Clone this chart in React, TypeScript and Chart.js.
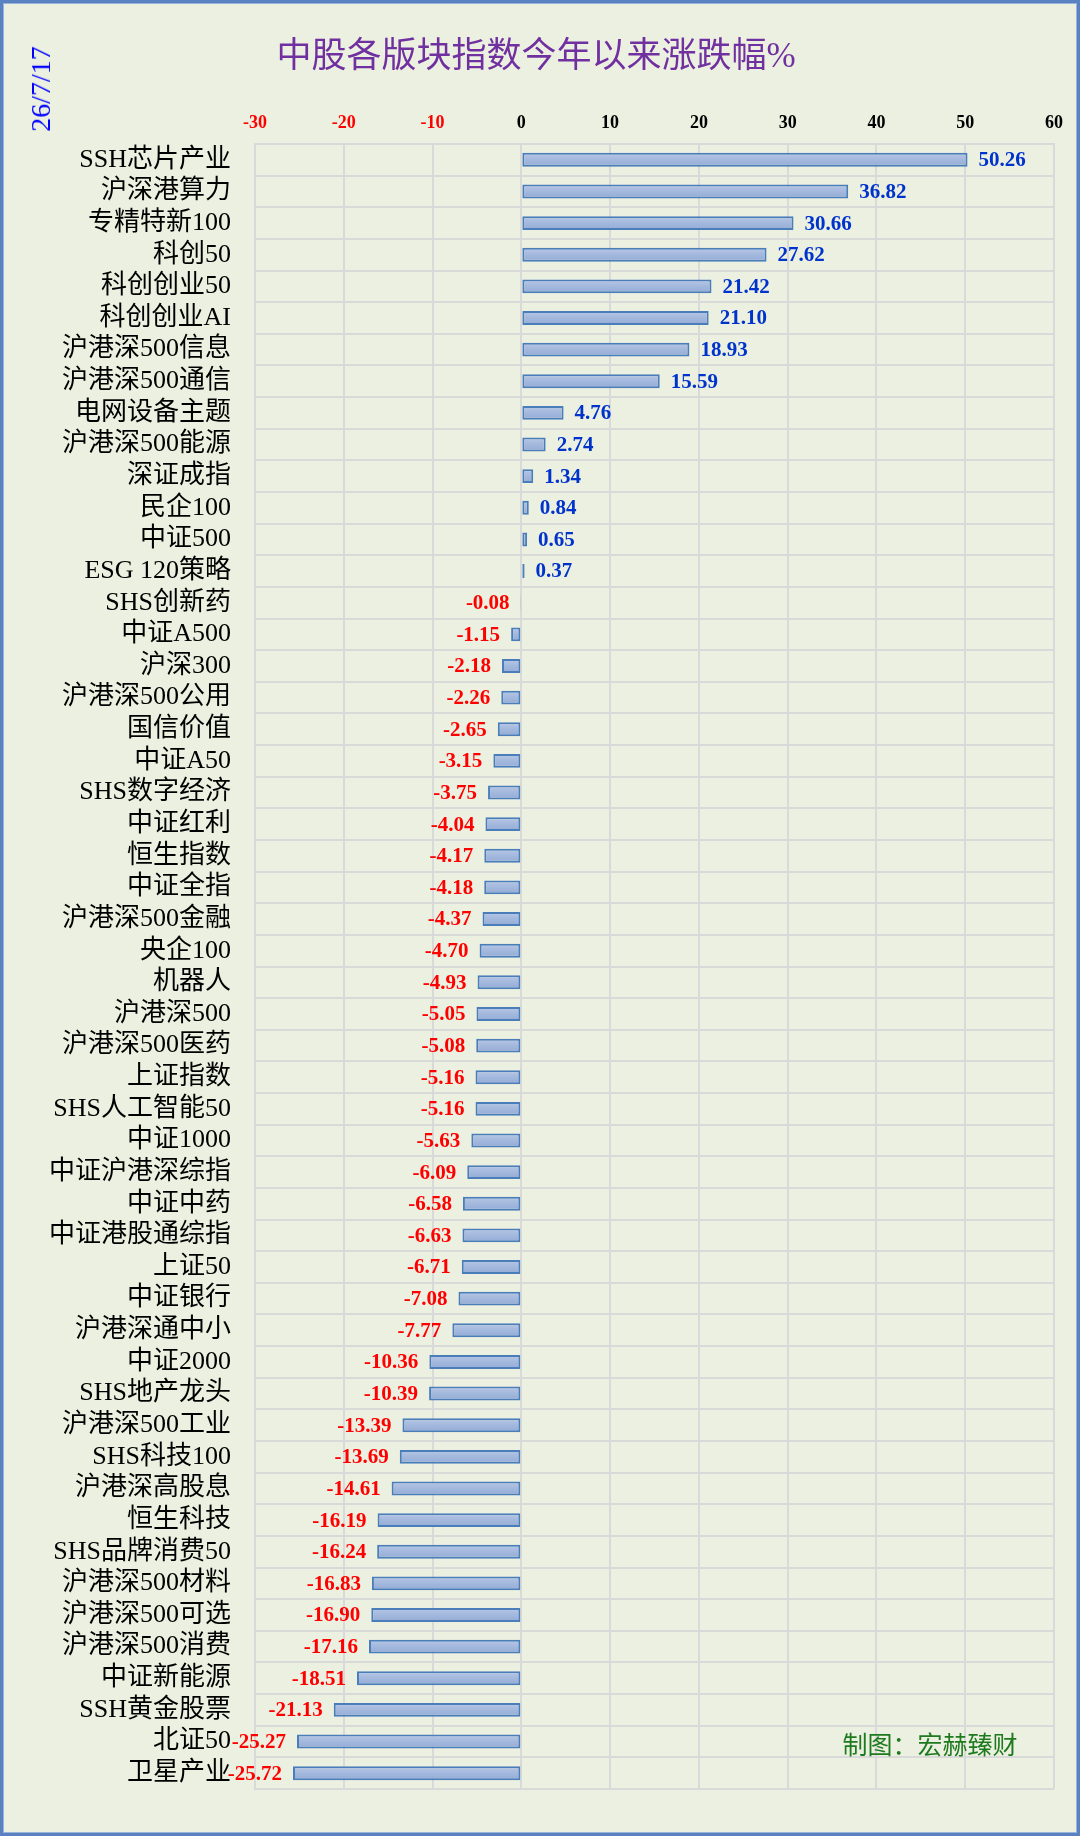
import React, { useEffect, useRef } from "react";
import { Chart, registerables } from "chart.js";

Chart.register(...registerables);

const TITLE = "中股各版块指数今年以来涨跌幅%";
const DATE_TEXT = "26/7/17";
const CREDIT = "制图：宏赫臻财";

const CATEGORIES: string[] = [
  "SSH芯片产业", "沪深港算力", "专精特新100", "科创50", "科创创业50", "科创创业AI",
  "沪港深500信息", "沪港深500通信", "电网设备主题", "沪港深500能源", "深证成指", "民企100",
  "中证500", "ESG 120策略", "SHS创新药", "中证A500", "沪深300", "沪港深500公用",
  "国信价值", "中证A50", "SHS数字经济", "中证红利", "恒生指数", "中证全指",
  "沪港深500金融", "央企100", "机器人", "沪港深500", "沪港深500医药", "上证指数",
  "SHS人工智能50", "中证1000", "中证沪港深综指", "中证中药", "中证港股通综指", "上证50",
  "中证银行", "沪港深通中小", "中证2000", "SHS地产龙头", "沪港深500工业", "SHS科技100",
  "沪港深高股息", "恒生科技", "SHS品牌消费50", "沪港深500材料", "沪港深500可选", "沪港深500消费",
  "中证新能源", "SSH黄金股票", "北证50", "卫星产业",
];

const VALUES: number[] = [
  50.26, 36.82, 30.66, 27.62, 21.42, 21.10,
  18.93, 15.59, 4.76, 2.74, 1.34, 0.84,
  0.65, 0.37, -0.08, -1.15, -2.18, -2.26,
  -2.65, -3.15, -3.75, -4.04, -4.17, -4.18,
  -4.37, -4.70, -4.93, -5.05, -5.08, -5.16,
  -5.16, -5.63, -6.09, -6.58, -6.63, -6.71,
  -7.08, -7.77, -10.36, -10.39, -13.39, -13.69,
  -14.61, -16.19, -16.24, -16.83, -16.90, -17.16,
  -18.51, -21.13, -25.27, -25.72,
];

const X_MIN = -30;
const X_MAX = 60;
const X_STEP = 10;

const SERIF = "'Liberation Serif', 'Times New Roman', 'Noto Sans CJK SC', serif";
const BG = "#ECF0E0";
const GRID = "#D9D9D9";
const BAR_PCT = 0.44;

const valueLabels = {
  id: "valueLabels",
  afterDatasetsDraw(chart: any) {
    const ctx = chart.ctx;
    const meta = chart.getDatasetMeta(0);
    ctx.save();
    ctx.font = `bold 21px ${SERIF}`;
    ctx.textBaseline = "middle";
    meta.data.forEach((bar: any, i: number) => {
      const v = VALUES[i];
      const txt = v.toFixed(2);
      if (v >= 0) {
        ctx.fillStyle = "#0033CC";
        ctx.textAlign = "left";
        ctx.fillText(txt, bar.x + 11, bar.y + 1);
      } else {
        ctx.fillStyle = "#FF0000";
        ctx.textAlign = "right";
        ctx.fillText(txt, bar.x - 11, bar.y + 1);
      }
    });
    ctx.restore();
  },
};

export default function App() {
  const canvasRef = useRef<HTMLCanvasElement | null>(null);

  useEffect(() => {
    document.body.style.margin = "0";
    const canvas = canvasRef.current;
    if (!canvas) return;
    const chart = new Chart(canvas, {
      type: "bar",
      data: {
        labels: CATEGORIES,
        datasets: [
          {
            data: VALUES,
            backgroundColor: (c: any) => {
              const ch = c.chart;
              const y = ch.scales && ch.scales.y;
              if (!y || c.dataIndex === undefined || !isFinite(y.height)) return "#A4B8DC";
              const center = y.getPixelForValue(c.dataIndex);
              const half = ((y.height / CATEGORIES.length) * BAR_PCT) / 2;
              const g = ch.ctx.createLinearGradient(0, center - half, 0, center + half);
              g.addColorStop(0, "#B9C8E6");
              g.addColorStop(0.5, "#A3B8DD");
              g.addColorStop(1, "#94ABD5");
              return g;
            },
            borderColor: "#4A7EBB",
            borderWidth: 2,
            borderSkipped: false,
            barPercentage: BAR_PCT,
            categoryPercentage: 1,
          },
        ],
      },
      options: {
        indexAxis: "y",
        responsive: true,
        maintainAspectRatio: false,
        animation: false,
        layout: { padding: { left: 0, right: 26, top: 0, bottom: 47 } },
        plugins: {
          legend: { display: false },
          tooltip: { enabled: false },
          title: { display: false },
        },
        scales: {
          x: {
            type: "linear",
            position: "top",
            min: X_MIN,
            max: X_MAX,
            ticks: {
              stepSize: X_STEP,
              padding: 10,
              color: (c: any) => (c.tick && c.tick.value < 0 ? "#FF0000" : "#000000"),
              font: { family: SERIF, size: 18, weight: "bold" },
            },
            grid: { color: GRID, lineWidth: 2, drawTicks: false },
            border: { color: GRID, width: 2 },
            afterFit: (s: any) => {
              s.height = 144;
            },
          },
          y: {
            type: "category",
            ticks: {
              autoSkip: false,
              padding: 24,
              color: "#000000",
              font: { family: SERIF, size: 26 },
            },
            grid: { color: GRID, lineWidth: 2, drawTicks: false, offset: true },
            border: { color: GRID, width: 2 },
            afterFit: (s: any) => {
              s.width = 255;
            },
          },
        },
      } as any,
      plugins: [valueLabels],
    });
    return () => chart.destroy();
  }, []);

  return (
    <div
      style={{
        position: "relative",
        width: 1080,
        height: 1836,
        background: BG,
        overflow: "hidden",
      }}
    >
      <canvas ref={canvasRef} style={{ position: "absolute", left: 0, top: 0 }} />
      <div
        style={{
          position: "absolute",
          left: 536,
          top: 51,
          transform: "translate(-50%, -50%)",
          color: "#7030A0",
          fontFamily: SERIF,
          fontSize: 35,
          whiteSpace: "nowrap",
        }}
      >
        {TITLE}
      </div>
      <div
        style={{
          position: "absolute",
          left: 41,
          top: 89,
          transform: "translate(-50%, -50%) rotate(-90deg)",
          color: "#0000FF",
          fontFamily: SERIF,
          fontSize: 28,
          whiteSpace: "nowrap",
        }}
      >
        {DATE_TEXT}
      </div>
      <div
        style={{
          position: "absolute",
          left: 930,
          top: 1743,
          transform: "translate(-50%, -50%)",
          color: "#1E7A1E",
          fontFamily: SERIF,
          fontSize: 25,
          whiteSpace: "nowrap",
        }}
      >
        {CREDIT}
      </div>
      <div
        style={{
          position: "absolute",
          left: 0,
          top: 0,
          width: 1080,
          height: 1836,
          boxSizing: "border-box",
          border: "3px solid #5B82C0",
          boxShadow: "inset 0 0 0 1px #9AB3DD",
          pointerEvents: "none",
        }}
      />
    </div>
  );
}
